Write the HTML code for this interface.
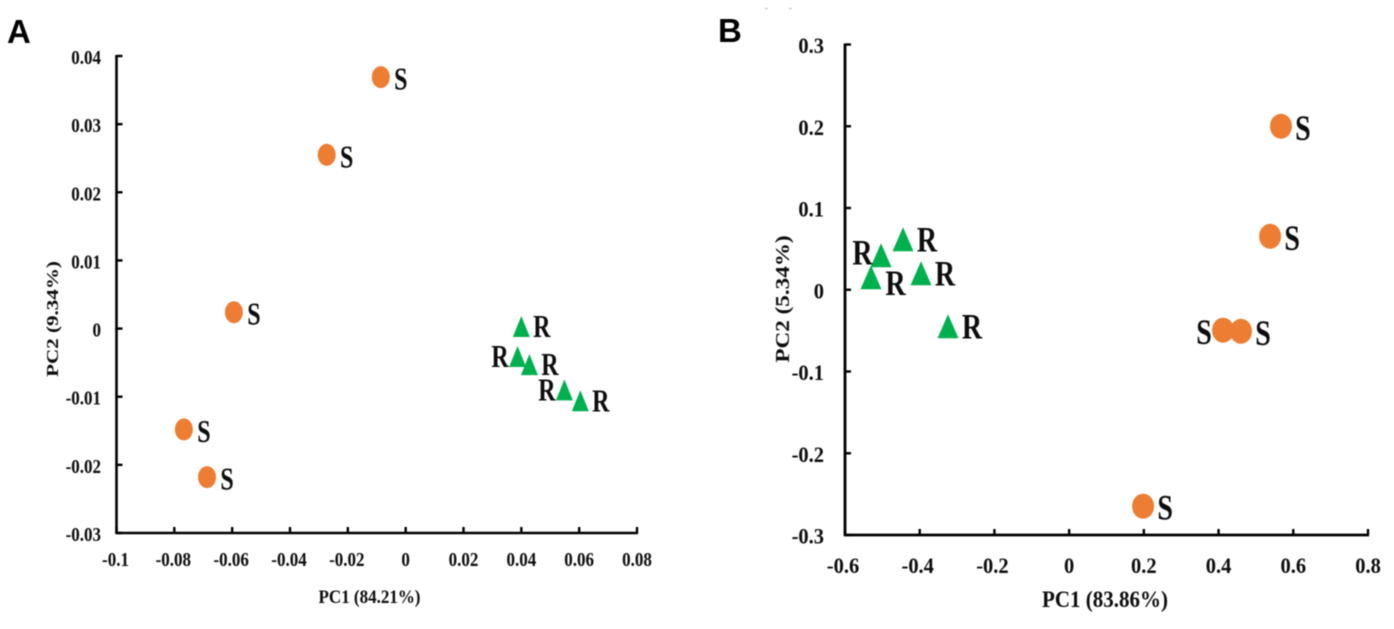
<!DOCTYPE html>
<html lang="en">
<head>
<meta charset="utf-8">
<title>PCA score plots</title>
<style>
html,body{margin:0;padding:0;background:#fff;width:1394px;height:629px;overflow:hidden}
svg{display:block}
text{font-family:"Liberation Serif",serif;font-weight:bold;fill:#0a0a0a}
.panel-letter{font-family:"Liberation Sans",sans-serif;fill:#000}
</style>
</head>
<body>
<svg id="chart" xmlns="http://www.w3.org/2000/svg" width="1394" height="629" viewBox="0 0 1394 629">
  <defs><filter id="soft" x="-5%" y="-5%" width="110%" height="110%"><feGaussianBlur stdDeviation="0.45"/></filter></defs>
  <g id="root" filter="url(#soft)">
    <text class="panel-letter" x="7" y="43" font-size="33">A</text>
    <text class="panel-letter" x="718" y="42" font-size="33">B</text>
    <rect x="765" y="8" width="3" height="1" fill="#bbb"/>
    <rect x="789" y="8" width="3" height="1" fill="#bbb"/>
  </g>
</svg>
<script>
// Panel A data
const aXTicks = [-0.1, -0.08, -0.06, -0.04, -0.02, 0, 0.02, 0.04, 0.06, 0.08];
const aXTickLabels = ['-0.1', '-0.08', '-0.06', '-0.04', '-0.02', '0', '0.02', '0.04', '0.06', '0.08'];
const aYTicks = [-0.03, -0.02, -0.01, 0, 0.01, 0.02, 0.03, 0.04];
const aYTickLabels = ['-0.03', '-0.02', '-0.01', '0', '0.01', '0.02', '0.03', '0.04'];
const aSusceptiblePC1 = [-0.0086, -0.0273, -0.0594, -0.0767, -0.0687];
const aSusceptiblePC2 = [0.0369, 0.0255, 0.0024, -0.0148, -0.0218];
const aSusceptibleSides = ['right', 'right', 'right', 'right', 'right'];
const aResistantPC1 = [0.0400, 0.0387, 0.0428, 0.0549, 0.0604];
const aResistantPC2 = [0.0003, -0.0041, -0.0053, -0.0090, -0.0106];
const aResistantSides = ['right', 'left', 'right', 'left', 'right'];

// Panel B data
const bXTicks = [-0.6, -0.4, -0.2, 0, 0.2, 0.4, 0.6, 0.8];
const bXTickLabels = ['-0.6', '-0.4', '-0.2', '0', '0.2', '0.4', '0.6', '0.8'];
const bYTicks = [-0.3, -0.2, -0.1, 0, 0.1, 0.2, 0.3];
const bYTickLabels = ['-0.3', '-0.2', '-0.1', '0', '0.1', '0.2', '0.3'];
const bSusceptiblePC1 = [0.567, 0.538, 0.412, 0.460, 0.198];
const bSusceptiblePC2 = [0.2000, 0.0654, -0.0495, -0.0508, -0.2648];
const bSusceptibleSides = ['right', 'right', 'left', 'right', 'right'];
const bResistantPC1 = [-0.4447, -0.5036, -0.5304, -0.3965, -0.3242];
const bResistantPC2 = [0.0618, 0.0422, 0.0153, 0.0202, -0.0446];
const bResistantSides = ['right', 'left', 'below', 'right', 'right'];

const NS = 'http://www.w3.org/2000/svg';
const root = document.getElementById('root');

function make(tag, attrs, parent) {
  const el = document.createElementNS(NS, tag);
  for (const k in attrs) el.setAttribute(k, attrs[k]);
  parent.appendChild(el);
  return el;
}

function scale(d0, d1, r0, r1) {
  return function (v) { return r0 + (v - d0) / (d1 - d0) * (r1 - r0); };
}

function drawPanel(p) {
  const x = scale(p.xDomain[0], p.xDomain[1], p.left, p.right);
  const y = scale(p.yDomain[0], p.yDomain[1], p.bottom, p.top);

  const g = make('g', {}, root);
  
  

  const yAxis = make('line', { x1: p.left, x2: p.left, y1: p.top - 1, y2: p.bottom + 1, stroke: '#000', 'stroke-width': p.axisWidth }, g);
  
  

  const xAxis = make('line', { x1: p.left - 1, x2: p.right + 1, y1: p.bottom, y2: p.bottom, stroke: '#000', 'stroke-width': p.axisWidth }, g);
  
  

  p.xTicks.forEach(function (v, i) {
    const tick = make('line', { x1: x(v), x2: x(v), y1: p.bottom, y2: p.bottom - 6, stroke: '#000', 'stroke-width': 2.4 }, g);
    
    
    const lx = x(v) + (v < 0 ? p.negDx : 0);
    const label = make('text', { 'text-anchor': 'middle', 'font-size': p.tickFont, transform: 'translate(' + lx + ',' + p.xLabelY + ') scale(1,' + p.tickStretch + ')' }, g);
    label.textContent = p.xTickLabels[i];
    
    
  });

  p.yTicks.forEach(function (v, i) {
    const tick = make('line', { x1: p.left, x2: p.left + 6, y1: y(v), y2: y(v), stroke: '#000', 'stroke-width': 2.4 }, g);
    
    
    const label = make('text', { 'text-anchor': 'end', 'font-size': p.tickFont, transform: 'translate(' + p.yLabelX + ',' + (y(v) + p.yLabelDy) + ') scale(1,' + p.tickStretch + ')' }, g);
    label.textContent = p.yTickLabels[i];
    
    
  });

  const xTitle = make('text', { 'text-anchor': 'middle', 'font-size': p.titleFont, transform: 'translate(' + p.xTitleX + ',' + p.xTitleY + ') scale(1,1.1)' }, g);
  xTitle.textContent = p.xTitle;
  
  

  const yTitle = make('text', { 'text-anchor': 'middle', 'font-size': p.yTitleFont, transform: 'translate(' + p.yTitleX + ',' + p.yTitleY + ') rotate(-90) scale(' + p.yTitleStretch + ',1)' }, g);
  yTitle.textContent = p.yTitle;
  
  

  function addLabel(text, cx, cy, side) {
    const off = p.placement[text][side];
    const t = make('text', { 'text-anchor': 'middle', 'font-size': p.markFont, transform: 'translate(' + (cx + off[0]) + ',' + (cy + off[1]) + ') scale(1,' + p.markStretch + ')' }, g);
    t.textContent = text;
    
    
  }

  p.sX.forEach(function (v, i) {
    const cx = x(v), cy = y(p.sY[i]);
    const c = make('ellipse', { cx: cx, cy: cy, rx: p.rx, ry: p.ry, fill: '#ed7d31' }, g);
    
    
    addLabel('S', cx, cy, p.sSides[i]);
  });

  p.rX.forEach(function (v, i) {
    const cx = x(v), cy = y(p.rY[i]);
    const pts = [[cx, cy - p.th / 2], [cx + p.tw / 2, cy + p.th / 2], [cx - p.tw / 2, cy + p.th / 2]];
    const tri = make('polygon', { points: pts.map(function (q) { return q.join(','); }).join(' '), fill: '#00b050' }, g);
    
    
    addLabel('R', cx, cy, p.rSides[i]);
  });
}

drawPanel({
  name: 'panel-a-pca-plot',
  left: 116.5, right: 637, top: 56, bottom: 533,
  xDomain: [-0.1, 0.08], yDomain: [-0.03, 0.04],
  xTicks: aXTicks, xTickLabels: aXTickLabels, yTicks: aYTicks, yTickLabels: aYTickLabels,
  sX: aSusceptiblePC1, sY: aSusceptiblePC2, sSides: aSusceptibleSides,
  rX: aResistantPC1, rY: aResistantPC2, rSides: aResistantSides,
  axisWidth: 2.6, tickFont: 17, tickStretch: 1.2, xLabelY: 566, yLabelX: 101, yLabelDy: 8, negDx: -1,
  xTitle: 'PC1 (84.21%)', xTitleX: 369.5, xTitleY: 603, titleFont: 17,
  yTitle: 'PC2 (9.34%)', yTitleX: 58, yTitleY: 319, yTitleFont: 17, yTitleStretch: 1.24,
  rx: 9, ry: 11, tw: 17, th: 21,
  markFont: 24, markStretch: 1.3,
  placement: {
    S: { right: [20, 12.5] },
    R: { right: [20.5, 10.5], left: [-17.5, 10.5] }
  }
});

drawPanel({
  name: 'panel-b-pca-plot',
  left: 845, right: 1368, top: 44.5, bottom: 535,
  xDomain: [-0.6, 0.8], yDomain: [-0.3, 0.3],
  xTicks: bXTicks, xTickLabels: bXTickLabels, yTicks: bYTicks, yTickLabels: bYTickLabels,
  sX: bSusceptiblePC1, sY: bSusceptiblePC2, sSides: bSusceptibleSides,
  rX: bResistantPC1, rY: bResistantPC2, rSides: bResistantSides,
  axisWidth: 2.8, tickFont: 20.5, tickStretch: 1.1, xLabelY: 573, yLabelX: 824, yLabelDy: 8.5, negDx: -2,
  xTitle: 'PC1 (83.86%)', xTitleX: 1105, xTitleY: 607, titleFont: 21,
  yTitle: 'PC2 (5.34%)', yTitleX: 789, yTitleY: 299, yTitleFont: 20.5, yTitleStretch: 1.13,
  rx: 11, ry: 12.5, tw: 21, th: 24,
  markFont: 28, markStretch: 1.27,
  placement: {
    S: { right: [22, 13.5], left: [-19, 14] },
    R: { right: [24, 12.5], left: [-18.5, 9], below: [24.5, 18] }
  }
});
</script>
</body>
</html>
